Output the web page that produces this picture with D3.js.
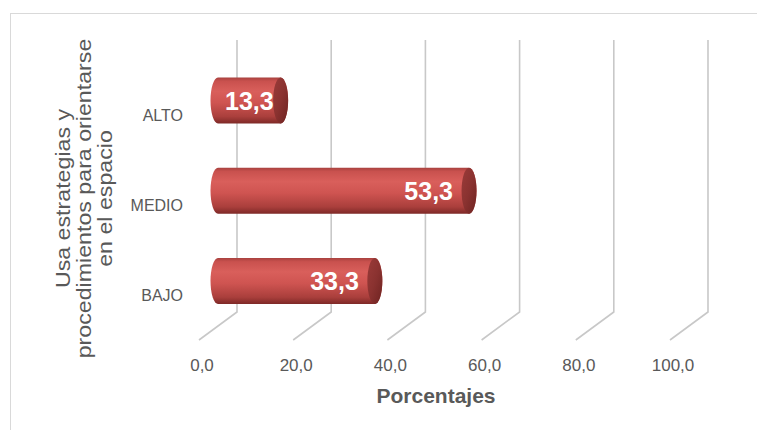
<!DOCTYPE html>
<html>
<head>
<meta charset="utf-8">
<script src="https://cdn.jsdelivr.net/npm/d3@7"></script>
<style>
  html, body { margin: 0; padding: 0; background: #ffffff; }
  svg { display: block; }
  text { font-family: "Liberation Sans", Arial, sans-serif; }
</style>
</head>
<body>
<svg id="chart" width="757" height="430"></svg>
<script>
// Levels and their percentages
const categories = ["ALTO", "MEDIO", "BAJO"];
const values = [13.3, 53.3, 33.3];
const valueLabels = ["13,3", "53,3", "33,3"];

// Axis ticks
const tickValues = [0, 20, 40, 60, 80, 100];
const tickLabels = ["0,0", "20,0", "40,0", "60,0", "80,0", "100,0"];

const yTitleLines = ["Usa estrategias y", "procedimientos para orientarse", "en el espacio"];
const xTitle = "Porcentajes";

const svg = d3.select("#chart");

// outer frame
svg.append("rect")
  .attr("x", 10.5).attr("y", 13.5)
  .attr("width", 760).attr("height", 430)
  .attr("fill", "#ffffff")
  .attr("stroke", "#d9d9d9").attr("stroke-width", 1);

// back wall value scale, plus the oblique depth of the 3D floor
const x = d3.scaleLinear().domain([0, 100]).range([237, 708]);
const wallTop = 40, wallBottom = 312;
const depthX = -38, depthY = 28;

const y = d3.scalePoint().domain(categories).range([100.5, 281]);
const barH = 46, rx = 7.5, ry = barH / 2;

const defs = svg.append("defs");
const bodyGrad = defs.append("linearGradient")
  .attr("id", "barBody").attr("x1", 0).attr("y1", 0).attr("x2", 0).attr("y2", 1);
[[0, "#a8413e"], [0.08, "#c9514e"], [0.3, "#d95f5b"], [0.55, "#cf5451"], [0.85, "#aa3f3c"], [1, "#7e2927"]]
  .forEach(([o, c]) => bodyGrad.append("stop").attr("offset", o).attr("stop-color", c));
const capGrad = defs.append("linearGradient")
  .attr("id", "barCap").attr("x1", 0).attr("y1", 0).attr("x2", 1).attr("y2", 1);
[[0, "#9a3b39"], [0.5, "#8a3230"], [1, "#6e2321"]]
  .forEach(([o, c]) => capGrad.append("stop").attr("offset", o).attr("stop-color", c));

// gridlines: vertical on the back wall, then down the floor toward the viewer
svg.append("g")
  .selectAll("path")
  .data(tickValues)
  .join("path")
  .attr("d", d => `M${x(d)},${wallTop}V${wallBottom}L${x(d) + depthX},${wallBottom + depthY}`)
  .attr("fill", "none")
  .attr("stroke", "#c8c8c8")
  .attr("stroke-width", 1.6);

// tick labels along the front edge of the floor
svg.append("g")
  .selectAll("text")
  .data(tickValues)
  .join("text")
  .attr("x", d => x(d) + depthX + 3)
  .attr("y", 371)
  .attr("text-anchor", "middle")
  .attr("font-size", 17)
  .attr("fill", "#595959")
  .text((d, i) => tickLabels[i]);

// category labels
svg.append("g")
  .selectAll("text")
  .data(categories)
  .join("text")
  .attr("x", 183)
  .attr("y", d => y(d) + 14.5 + 5.5)
  .attr("text-anchor", "end")
  .attr("font-size", 16)
  .attr("fill", "#595959")
  .text(d => d);

// cylinders, sitting halfway into the depth
const midX = v => x(v) + depthX / 2;
const bars = svg.append("g")
  .selectAll("g")
  .data(categories.map((c, i) => ({ c, v: values[i], label: valueLabels[i] })))
  .join("g");

bars.append("path")
  .attr("d", d => {
    const x0 = midX(0), x1 = midX(d.v), cy = y(d.c);
    return `M${x0},${cy - ry}L${x1},${cy - ry}A${rx},${ry} 0 0 1 ${x1},${cy + ry}` +
           `L${x0},${cy + ry}A${rx},${ry} 0 0 1 ${x0},${cy - ry}Z`;
  })
  .attr("fill", "url(#barBody)");

bars.append("ellipse")
  .attr("cx", d => midX(d.v))
  .attr("cy", d => y(d.c))
  .attr("rx", rx)
  .attr("ry", ry)
  .attr("fill", "url(#barCap)");

// value labels inside the bar end (centred when the bar is short)
bars.append("text")
  .attr("font-size", 25)
  .attr("font-weight", "bold")
  .attr("fill", "#ffffff")
  .attr("y", d => y(d.c) + 9)
  .text(d => d.label)
  .each(function (d) {
    const w = this.getComputedTextLength();
    const x0 = midX(0) - rx, x1 = midX(d.v);
    let end = x1 - 16;
    if (end - w < x0 + 10) end = (x0 + x1 + rx) / 2 + w / 2;
    d3.select(this).attr("x", end).attr("text-anchor", "end");
  });

// axis titles
svg.append("text")
  .attr("x", 436)
  .attr("y", 403)
  .attr("text-anchor", "middle")
  .attr("font-size", 21)
  .attr("font-weight", "bold")
  .attr("fill", "#595959")
  .text(xTitle);

// vertical title, three lines, stretched slightly along its reading direction
const yTitle = svg.append("text")
  .attr("transform", "translate(84,198.5) rotate(-90) scale(1.16,1)")
  .attr("text-anchor", "middle")
  .attr("font-size", 20)
  .attr("fill", "#595959");
yTitleLines.forEach((line, i) => {
  yTitle.append("tspan")
    .attr("x", 0)
    .attr("y", (i - 1) * 21 + 7)
    .text(line);
});
</script>
</body>
</html>
